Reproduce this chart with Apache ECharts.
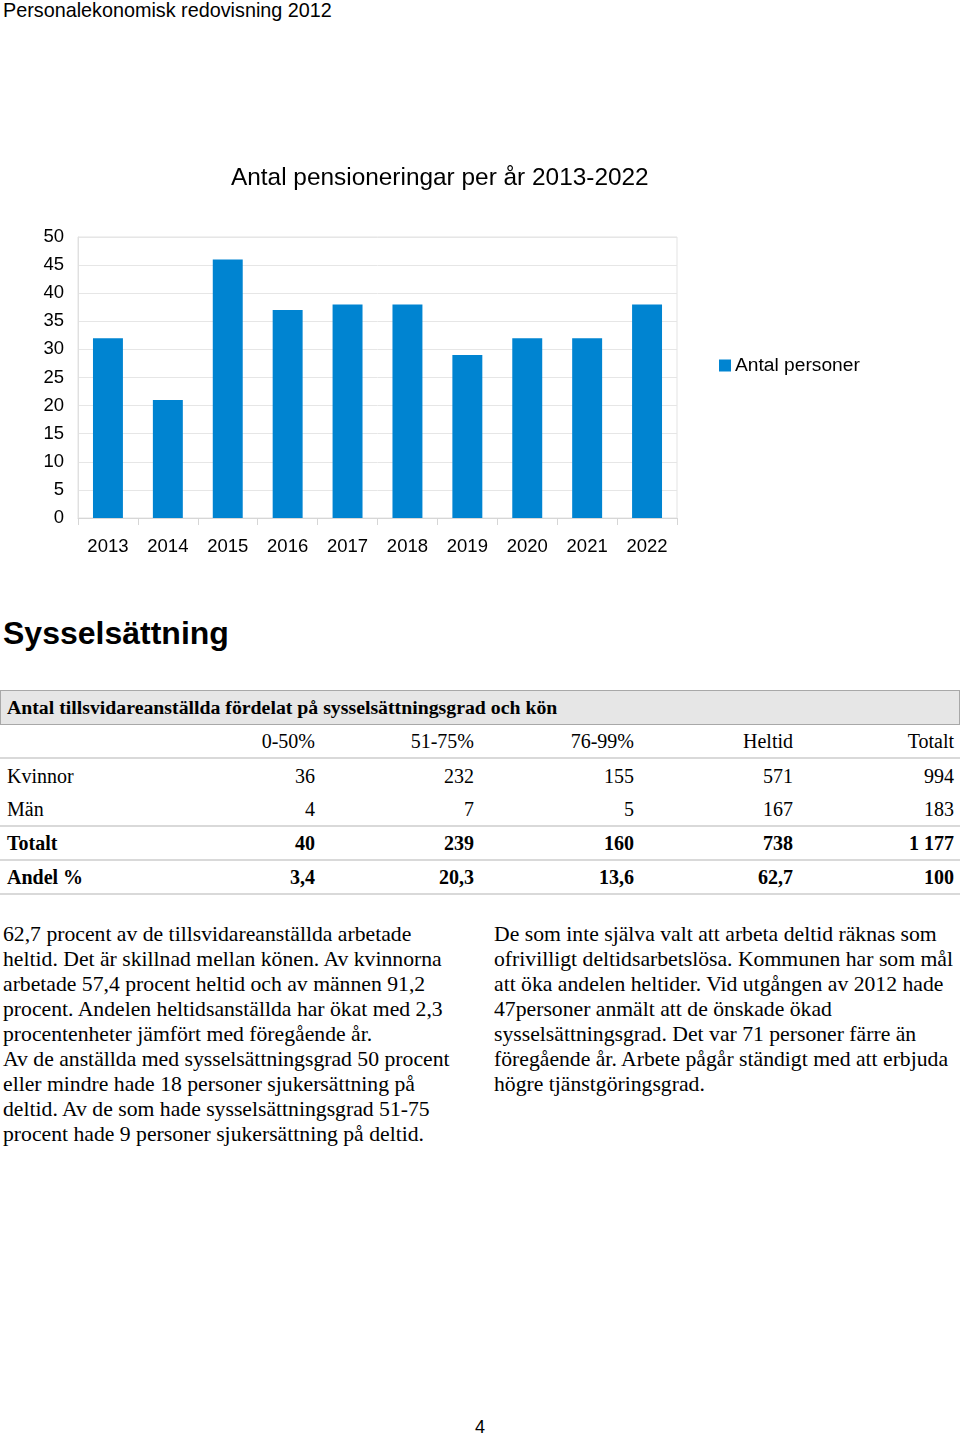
<!DOCTYPE html>
<html>
<head>
<meta charset="utf-8">
<script src="https://cdn.jsdelivr.net/npm/echarts@6/dist/echarts.min.js"></script>
<style>
  html, body { margin: 0; padding: 0; background: #fff; }
  body { width: 960px; height: 1436px; position: relative; overflow: hidden; color: #000; }
  .sans { font-family: "Liberation Sans", Arial, sans-serif; }
  .serif { font-family: "Liberation Serif", "Times New Roman", serif; }
  #top { position: absolute; left: 3px; top: -1px; font-size: 19.8px; line-height: 22px; }
  #chart { position: absolute; left: 0; top: 140px; width: 960px; height: 440px; }
  #heading { position: absolute; left: 3px; top: 613px; font-size: 32px; font-weight: bold; line-height: 40px; }
  #band { position: absolute; left: 0; top: 690px; width: 958px; height: 33px; background: #e6e6e6; border: 1px solid #a8a8a8; }
  #bandtext { position: absolute; left: 7px; top: 695px; font-size: 19.8px; font-weight: bold; line-height: 24px; }
  table { position: absolute; left: 0; top: 725px; width: 960px; border-collapse: separate; border-spacing: 0; font-size: 20px; table-layout: fixed; }
  td { height: 34px; padding: 0 6px 0 7px; line-height: 34px; text-align: right; white-space: nowrap; }
  td:first-child { text-align: left; }
  tr.line td { border-bottom: 2px solid #d9d9d9; height: 32px; line-height: 32px; }
  tr.bold td { font-weight: bold; }
  .para { position: absolute; top: 922px; font-size: 21.7px; line-height: 25px; white-space: pre; }
  #p1 { left: 3px; }
  #p2 { left: 494px; }
  #pageno { position: absolute; left: 0; width: 960px; top: 1416px; text-align: center; font-size: 18px; line-height: 22px; }
</style>
</head>
<body>
<div id="top" class="sans">Personalekonomisk redovisning 2012</div>
<div id="chart"></div>
<div id="heading" class="sans">Sysselsättning</div>
<div id="band"></div>
<div id="bandtext" class="serif">Antal tillsvidareanställda fördelat på sysselsättningsgrad och kön</div>
<table class="serif" id="tbl"></table>
<div id="p1" class="para serif"></div>
<div id="p2" class="para serif"></div>
<div id="pageno" class="sans">4</div>
<script>
// Chart data
const years = ["2013", "2014", "2015", "2016", "2017", "2018", "2019", "2020", "2021", "2022"];
const antalPersoner = [32, 21, 46, 37, 38, 38, 29, 32, 32, 38];
const chartTitle = "Antal pensioneringar per år 2013-2022";
const seriesName = "Antal personer";

// Table data
const tableColumns = ["0-50%", "51-75%", "76-99%", "Heltid", "Totalt"];
const kvinnor = ["36", "232", "155", "571", "994"];
const man = ["4", "7", "5", "167", "183"];
const totalt = ["40", "239", "160", "738", "1 177"];
const andel = ["3,4", "20,3", "13,6", "62,7", "100"];

// Text
const para1 = [
  "62,7 procent av de tillsvidareanställda arbetade",
  "heltid. Det är skillnad mellan könen. Av kvinnorna",
  "arbetade 57,4 procent heltid och av männen 91,2",
  "procent. Andelen heltidsanställda har ökat med 2,3",
  "procentenheter jämfört med föregående år.",
  "Av de anställda med sysselsättningsgrad 50 procent",
  "eller mindre hade 18 personer sjukersättning på",
  "deltid. Av de som hade sysselsättningsgrad 51-75",
  "procent hade 9 personer sjukersättning på deltid."
];
const para2 = [
  "De som inte själva valt att arbeta deltid räknas som",
  "ofrivilligt deltidsarbetslösa. Kommunen har som mål",
  "att öka andelen heltider. Vid utgången av 2012 hade",
  "47personer anmält att de önskade ökad",
  "sysselsättningsgrad. Det var 71 personer färre än",
  "föregående år. Arbete pågår ständigt med att erbjuda",
  "högre tjänstgöringsgrad."
];

document.getElementById('p1').textContent = para1.join("\n");
document.getElementById('p2').textContent = para2.join("\n");

function row(label, vals, cls) {
  const tr = document.createElement('tr');
  if (cls) tr.className = cls;
  const cells = [label].concat(vals);
  cells.forEach(function (v) { const td = document.createElement('td'); td.textContent = v; tr.appendChild(td); });
  return tr;
}
const tbl = document.getElementById('tbl');
const cg = document.createElement('colgroup');
[160, 161, 159, 160, 159, 161].forEach(function (w) { const c = document.createElement('col'); c.style.width = w + 'px'; cg.appendChild(c); });
tbl.appendChild(cg);
tbl.appendChild(row("", tableColumns, "line"));
tbl.appendChild(row("Kvinnor", kvinnor, ""));
tbl.appendChild(row("Män", man, "line"));
tbl.appendChild(row("Totalt", totalt, "line bold"));
tbl.appendChild(row("Andel %", andel, "line bold"));

const chart = echarts.init(document.getElementById('chart'), null, { renderer: 'canvas' });
const font = '"Liberation Sans", Arial, sans-serif';
chart.setOption({
  animation: false,
  textStyle: { fontFamily: font },
  title: {
    text: chartTitle,
    left: 226, top: 21,
    textStyle: { fontFamily: font, fontSize: 24.4, fontWeight: 'normal', color: '#000' }
  },
  legend: {
    data: [seriesName],
    left: 714, top: 211,
    icon: 'rect', itemWidth: 12, itemHeight: 12, itemGap: 5,
    textStyle: { fontFamily: font, fontSize: 19.2, color: '#000', padding: [0, 0, 0, -1] }
  },
  grid: {
    left: 78, right: 283, top: 97, bottom: 62,
    show: true, borderColor: '#e3e3e3', borderWidth: 1
  },
  xAxis: {
    type: 'category',
    data: years,
    axisLine: { lineStyle: { color: '#d6d6d6' } },
    axisTick: { show: true, alignWithLabel: false, length: 7, lineStyle: { color: '#d6d6d6' } },
    axisLabel: { color: '#000', fontSize: 18.5, margin: 19, fontFamily: font }
  },
  yAxis: {
    type: 'value',
    min: 0, max: 50, interval: 5,
    axisLine: { show: true, lineStyle: { color: '#e0e0e0' } },
    axisTick: { show: false },
    splitLine: { lineStyle: { color: '#e6e6e6' } },
    axisLabel: { color: '#000', fontSize: 18.5, margin: 14, fontFamily: font, padding: [3, 0, 0, 0] }
  },
  series: [{
    name: seriesName,
    type: 'bar',
    data: antalPersoner,
    barWidth: '50%',
    itemStyle: { color: '#0084D1' }
  }]
});
</script>
</body>
</html>
